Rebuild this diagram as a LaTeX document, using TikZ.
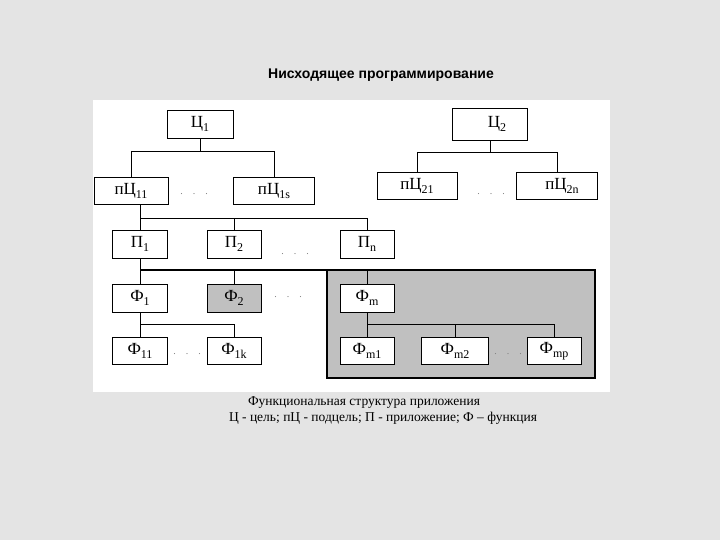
\documentclass[tikz,border=0pt]{standalone}
\usepackage{fontspec}
\setmainfont{Liberation Serif}
\newfontfamily\titlefont{Liberation Sans}
\usetikzlibrary{positioning}
\definecolor{pagegray}{RGB}{228,228,228}
\definecolor{boxgray}{RGB}{192,192,192}
\newcommand{\lo}[1]{\raisebox{-0.45ex}{\fontsize{12}{12}\selectfont #1}}
\tikzset{
  goal/.style={draw,thick,fill=white,inner sep=0pt,font=\fontsize{17}{17}\selectfont},
  link/.style={draw,thin},
  gap/.style={text=gray,font=\fontsize{10}{10}\selectfont}
}
\begin{document}
\begin{tikzpicture}[x=1pt,y=-1pt]
				\useasboundingbox (0,0) rectangle (720,540);
				\fill[pagegray] (0,0) rectangle (720,540);
				\fill[white] (93,100) rectangle (610,392);
				\node[font=\titlefont\bfseries\fontsize{14}{14}\selectfont] (title) at (381,75) {Нисходящее программирование};
				% gray block of the application m
				\draw[line width=1.6pt,fill=boxgray] (327,270) rectangle (595,378);
				\node[goal,minimum width=66,minimum height=28] (C1) at (200,124) {Ц\lo{1}};
				\node[goal,minimum width=75,minimum height=32] (C2) at (490,124) {\hspace{14pt}Ц\lo{2}};
				\node[goal,minimum width=74,minimum height=27] (pC11) at (131,191) {пЦ\lo{11}};
				\node[goal,minimum width=81,minimum height=27] (pC1s) at (274,191) {пЦ\lo{1s}};
				\node[goal,minimum width=80,minimum height=27] (pC21) at (417,186) {пЦ\lo{21}};
				\node[goal,minimum width=81,minimum height=27] (pC2n) at (557,186) {\hspace{10pt}пЦ\lo{2n}};
				\node[goal,minimum width=55,minimum height=28] (P1) at (140,244) {П\lo{1}};
				\node[goal,minimum width=54,minimum height=28] (P2) at (234,244) {П\lo{2}};
				\node[goal,minimum width=54,minimum height=28] (Pn) at (367,244) {П\lo{n}};
				\node[goal,minimum width=55,minimum height=28] (F1) at (140,298) {Ф\lo{1}};
				\node[goal,minimum width=54,minimum height=28,fill=boxgray] (F2) at (234,298) {Ф\lo{2}};
				\node[goal,minimum width=54,minimum height=28] (Fm) at (367,298) {Ф\lo{m}};
				\node[goal,minimum width=55,minimum height=27] (F11) at (140,351) {Ф\lo{11}};
				\node[goal,minimum width=54,minimum height=27] (F1k) at (234,351) {Ф\lo{1k}};
				\node[goal,minimum width=54,minimum height=27] (Fm1) at (367,351) {Ф\lo{m1}};
				\node[goal,minimum width=67,minimum height=27] (Fm2) at (455,351) {Ф\lo{m2}};
				\node[goal,minimum width=54,minimum height=27] (Fmp) at (554,351) {Ф\lo{mp}};
				% bus levels
				\coordinate (busC1) at (200,151);
				\coordinate (busC2) at (490,152);
				\coordinate (busP) at (140,218);
				\coordinate (busF) at (140,270);
				\coordinate (busF1) at (140,324);
				\coordinate (busFm) at (367,324);
				\draw[link] (C1.south) -- (busC1);
				\draw[link] (pC11.north |- busC1) -- (pC11.north);
				\draw[link] (pC11.north |- busC1) -| (pC1s.north);
				\draw[link] (C2.south) -- (busC2);
				\draw[link] (pC21.north |- busC2) -- (pC21.north);
				\draw[link] (pC21.north |- busC2) -| (pC2n.north);
				\draw[link] (busP |- pC11.south) -- (busP);
				\draw[link] (busP) -- (P1.north);
				\draw[link] (busP) -| (P2.north);
				\draw[link] (busP) -| (Pn.north);
				\draw[link] (P1.south) -- (F1.north);
				\draw[line width=1.6pt] (busF) -- (327,270);
				\draw[link] (busF -| F2.north) -- (F2.north);
				\draw[link] (busF -| Fm.north) -- (Fm.north);
				\draw[link] (F1.south) -- (F11.north);
				\draw[link] (busF1) -| (F1k.north);
				\draw[link] (Fm.south) -- (Fm1.north);
				\draw[link] (busFm) -| (Fm2.north);
				\draw[link] (busFm) -| (Fmp.north);
				% omitted members
				\node[gap] (gapC1) at (194,194) {.\quad.\quad.};
				\node[gap] (gapC2) at (491,194) {.\quad.\quad.};
				\node[gap] (gapP) at (295,254) {.\quad.\quad.};
				\node[gap] (gapF) at (288,297) {.\quad.\quad.};
				\node[gap] (gapF1) at (187,354) {.\quad.\quad.};
				\node[gap] (gapFm) at (508,354) {.\quad.\quad.};
				\node[font=\fontsize{13.5}{13.5}\selectfont] (caption) at (364,403) {Функциональная структура приложения};
				\node[font=\fontsize{13.5}{13.5}\selectfont] (legend) at (383,418) {Ц - цель; пЦ - подцель; П - приложение; Ф – функция};
\end{tikzpicture}
\end{document}
